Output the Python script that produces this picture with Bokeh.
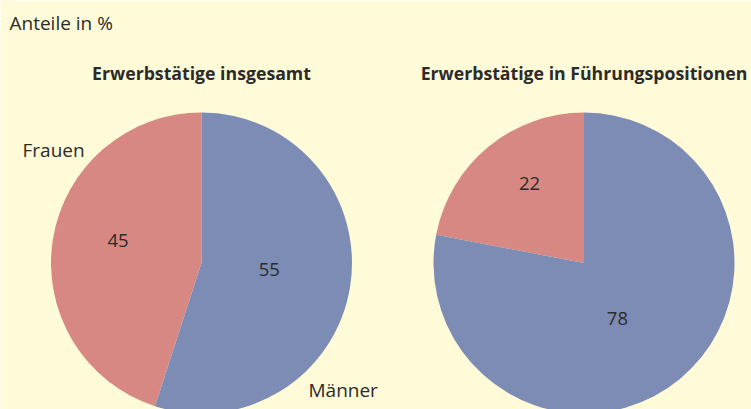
import math
from bokeh.plotting import figure
from bokeh.models import Range1d, ColumnDataSource
from bokeh.core.properties import value
from bokeh.embed import file_html
from bokeh.resources import INLINE

# ---- data ----
categories = ["Frauen", "Männer"]
titles = ["Erwerbstätige insgesamt", "Erwerbstätige in Führungspositionen"]
share_total = [45, 55]
share_leading = [22, 78]
subtitle = "Anteile in %"

# ---- style ----
BG = "#FFFBD9"
COLORS = ["#D88882", "#7D8CB5"]
TXT = "#2B2B2B"
FONT = "Open Sans"
W, H = 751, 409

def sy(y):
    return H - y

centers_x = [201.0, 583.5]
center_y = 262.5
radius = 150.5
label_r = [[0.573, 0.452], [0.64, 0.43]]
label_dang = [[-5.8, 3.5], [-5.2, -8.5]]

p = figure(width=W, height=H, output_backend="svg", toolbar_location=None,
           x_range=Range1d(0, W), y_range=Range1d(0, H),
           min_border=0, background_fill_color=BG, border_fill_color=BG,
           outline_line_color=None)
p.xaxis.visible = False
p.yaxis.visible = False
p.grid.visible = False

for k, vals in enumerate([share_total, share_leading]):
    total = sum(vals)
    starts, ends, lx, ly, txt = [], [], [], [], []
    a = math.pi / 2
    for i, v in enumerate(vals):
        span = 2 * math.pi * v / total
        starts.append(a)
        ends.append(a + span)
        mid = a + span / 2 + math.radians(label_dang[k][i])
        r = radius * label_r[k][i]
        lx.append(centers_x[k] + r * math.cos(mid))
        ly.append(sy(center_y) + r * math.sin(mid))
        txt.append(str(v))
        a += span
    src = ColumnDataSource(dict(start=starts, end=ends, color=COLORS,
                                x=[centers_x[k]] * len(vals), y=[sy(center_y)] * len(vals)))
    p.wedge(x="x", y="y", radius=radius, start_angle="start", end_angle="end",
            fill_color="color", line_color=None, source=src)
    p.text(x=lx, y=ly, text=txt, text_align="center", text_baseline="middle",
           text_font=value(FONT), text_font_size="18.5px", text_color=TXT)
    p.text(x=[centers_x[k]], y=[sy(72.8)], text=[titles[k]], text_align="center",
           text_baseline="middle", text_font=value(FONT), text_font_size="17.7px",
           text_font_style="bold", text_color=TXT)

p.text(x=[9], y=[sy(22)], text=[subtitle], text_align="left", text_baseline="middle",
       text_font=value(FONT), text_font_size="19px", text_color=TXT)
p.text(x=[22, 308], y=[sy(149.5), sy(389)], text=categories, text_align="left",
       text_baseline="middle", text_font=value(FONT), text_font_size="19px", text_color=TXT)

open("out.html", "w").write(file_html(p, INLINE))
